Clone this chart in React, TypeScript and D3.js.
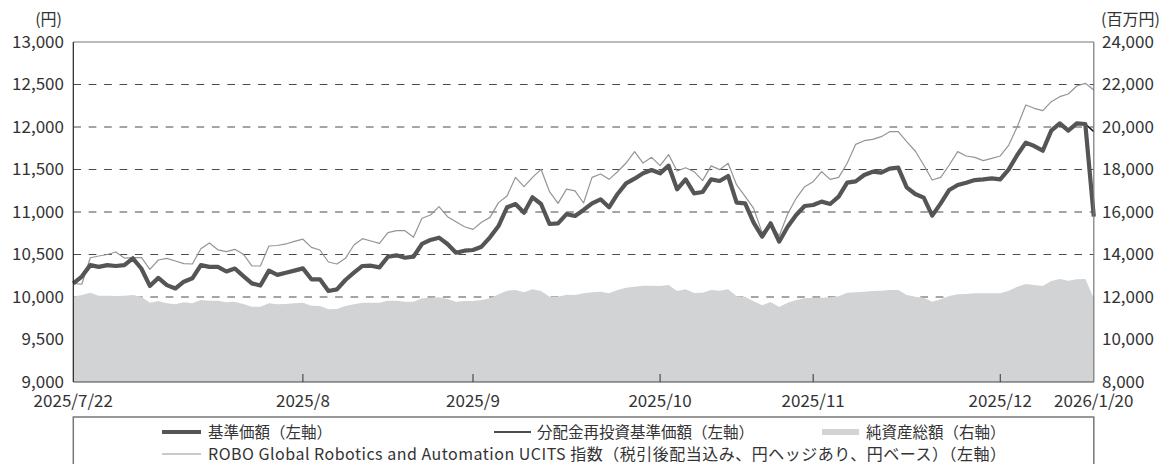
import React, { useEffect, useRef } from "react";
import * as d3 from "d3";

// 基準価額 (left axis, yen)
const navValues = [
  10160, 10240, 10375, 10355, 10375, 10365, 10375, 10455, 10335, 10130,
  10225, 10140, 10100, 10180, 10220, 10375, 10355, 10355, 10300, 10335,
  10245, 10160, 10135, 10310, 10260, 10285, 10310, 10337, 10208, 10208,
  10071, 10090, 10200, 10286, 10365, 10368, 10349, 10474, 10490, 10462,
  10474, 10624, 10671, 10698, 10624, 10521, 10545, 10553, 10592, 10702,
  10835, 11055, 11094, 10992, 11173, 11094, 10859, 10867, 10975, 10953,
  11024, 11102, 11149, 11055, 11212, 11337, 11392, 11455, 11494, 11455,
  11545, 11267, 11384, 11220, 11235, 11384, 11365, 11424, 11110, 11102,
  10875, 10710, 10867, 10651, 10827, 10965, 11071, 11082, 11122, 11094,
  11180, 11345, 11360, 11435, 11474, 11463, 11510, 11522, 11290, 11212,
  11169, 10957, 11102, 11259, 11318, 11345, 11376, 11384, 11396, 11384,
  11502, 11671, 11816, 11776, 11721, 11957, 12043, 11957, 12043, 12035,
  10945,
];

// 分配金再投資基準価額 (left axis, yen)
const reinvestValues = [
  10160, 10240, 10375, 10355, 10375, 10365, 10375, 10455, 10335, 10130,
  10225, 10140, 10100, 10180, 10220, 10375, 10355, 10355, 10300, 10335,
  10245, 10160, 10135, 10310, 10260, 10285, 10310, 10337, 10208, 10208,
  10071, 10090, 10200, 10286, 10365, 10368, 10349, 10474, 10490, 10462,
  10474, 10624, 10671, 10698, 10624, 10521, 10545, 10553, 10592, 10702,
  10835, 11055, 11094, 10992, 11173, 11094, 10859, 10867, 10975, 10953,
  11024, 11102, 11149, 11055, 11212, 11337, 11392, 11455, 11494, 11455,
  11545, 11267, 11384, 11220, 11235, 11384, 11365, 11424, 11110, 11102,
  10875, 10710, 10867, 10651, 10827, 10965, 11071, 11082, 11122, 11094,
  11180, 11345, 11360, 11435, 11474, 11463, 11510, 11522, 11290, 11212,
  11169, 10957, 11102, 11259, 11318, 11345, 11376, 11384, 11396, 11384,
  11502, 11671, 11816, 11776, 11721, 11957, 12043, 11957, 12043, 12035,
  11945,
];

// ROBO Global Robotics and Automation UCITS index (left axis)
const indexValues = [
  10160, 10150, 10462, 10482, 10500, 10530, 10458, 10463, 10465, 10326,
  10435, 10455, 10423, 10392, 10388, 10567, 10635, 10555, 10533, 10561,
  10504, 10365, 10365, 10600, 10606, 10624, 10655, 10680, 10584, 10553,
  10412, 10388, 10455, 10612, 10686, 10659, 10631, 10757, 10780, 10780,
  10702, 10926, 10965, 11063, 10945, 10886, 10827, 10796, 10880, 10937,
  11110, 11188, 11408, 11298, 11408, 11502, 11239, 11102, 11269, 11249,
  11106, 11408, 11447, 11384, 11474, 11576, 11710, 11576, 11643, 11545,
  11675, 11482, 11520, 11474, 11369, 11543, 11498, 11573, 11318, 11184,
  11043, 10757, 10860, 10718, 10976, 11161, 11298, 11357, 11474, 11384,
  11408, 11573, 11796, 11839, 11855, 11886, 11945, 11945, 11827, 11718,
  11553, 11376, 11408, 11553, 11710, 11659, 11643, 11604, 11631, 11659,
  11788, 12004, 12259, 12220, 12192, 12298, 12357, 12388, 12482, 12514,
  12435,
];

// 純資産総額 (right axis, million yen)
const assetValues = [
  12014, 12094, 12203, 12061, 12061, 12047, 12061, 12094, 12014, 11733,
  11812, 11702, 11655, 11749, 11702, 11859, 11827, 11827, 11749, 11780,
  11671, 11545, 11545, 11702, 11655, 11671, 11702, 11733, 11592, 11576,
  11420, 11435, 11576, 11655, 11733, 11733, 11733, 11827, 11827, 11780,
  11780, 11937, 11969, 11984, 11906, 11780, 11812, 11812, 11859, 11937,
  12125, 12298, 12329, 12220, 12361, 12282, 12016, 12016, 12110, 12094,
  12173, 12220, 12251, 12173, 12329, 12439, 12486, 12533, 12533, 12518,
  12565, 12282, 12361, 12190, 12204, 12329, 12298, 12361, 12032, 12016,
  11796, 11608, 11765, 11530, 11725, 11859, 11937, 11969, 11969, 11984,
  12030, 12204, 12220, 12251, 12282, 12298, 12329, 12329, 12094, 12016,
  11969, 11780, 11890, 12047, 12125, 12141, 12173, 12173, 12173, 12173,
  12298, 12486, 12612, 12565, 12518, 12753, 12847, 12769, 12831, 12847,
  11937,
];

const leftTicks = [9000, 9500, 10000, 10500, 11000, 11500, 12000, 12500, 13000];
const rightTicks = [8000, 10000, 12000, 14000, 16000, 18000, 20000, 22000, 24000];
const dateLabels = ["2025/7/22", "2025/8", "2025/9", "2025/10", "2025/11", "2025/12", "2026/1/20"];
const dateLabelIndex = [0, 27, 47, 69, 87, 109, 120];

const legendRow1 = ["基準価額（左軸）", "分配金再投資基準価額（左軸）", "純資産総額（右軸）"];
const legendRow2 = "ROBO Global Robotics and Automation UCITS 指数（税引後配当込み、円ヘッジあり、円ベース）（左軸）";

const FONT = "'Noto Sans CJK JP', 'Noto Sans', sans-serif";

export default function App() {
  const ref = useRef<SVGSVGElement>(null);

  useEffect(() => {
    document.body.style.margin = "0";
    const width = 1165;
    const height = 464;
    const left = 73.3;
    const right = 1093.8;
    const top = 42;
    const bottom = 382;

    const svg = d3.select(ref.current);
    svg.selectAll("*").remove();

    const x = d3.scaleLinear().domain([0, navValues.length - 1]).range([left, right]);
    const yL = d3.scaleLinear().domain([9000, 13000]).range([bottom, top]);
    const yR = d3.scaleLinear().domain([8000, 24000]).range([bottom, top]);

    const textColor = "#333";

    // dashed gridlines
    svg
      .append("g")
      .selectAll("line")
      .data(leftTicks.filter((t) => t > 9000 && t < 13000))
      .enter()
      .append("line")
      .attr("x1", left)
      .attr("x2", right)
      .attr("y1", (d) => yL(d))
      .attr("y2", (d) => yL(d))
      .attr("stroke", "#4a4a4a")
      .attr("stroke-width", 1)
      .attr("stroke-dasharray", "7.7,7.7");

    // net assets area
    const area = d3
      .area<number>()
      .x((d, i) => x(i))
      .y0(bottom)
      .y1((d) => yR(d));
    svg.append("path").datum(assetValues).attr("d", area).attr("fill", "#d2d3d5");

    const line = d3
      .line<number>()
      .x((d, i) => x(i))
      .y((d) => yL(d));

    svg
      .append("path")
      .datum(indexValues)
      .attr("d", line)
      .attr("fill", "none")
      .attr("stroke", "#959595")
      .attr("stroke-width", 1.2)
      .attr("stroke-linejoin", "round");

    svg
      .append("path")
      .datum(reinvestValues)
      .attr("d", line)
      .attr("fill", "none")
      .attr("stroke", "#111")
      .attr("stroke-width", 1.5)
      .attr("stroke-linejoin", "round");

    svg
      .append("path")
      .datum(navValues)
      .attr("d", line)
      .attr("fill", "none")
      .attr("stroke", "#555")
      .attr("stroke-width", 4.2)
      .attr("stroke-linejoin", "round");

    // frame
    svg.append("line").attr("x1", left).attr("x2", right).attr("y1", top).attr("y2", top).attr("stroke", "#777").attr("stroke-width", 1.2);
    svg.append("line").attr("x1", right).attr("x2", right).attr("y1", top).attr("y2", bottom).attr("stroke", "#777").attr("stroke-width", 1.2);
    svg.append("line").attr("x1", left).attr("x2", left).attr("y1", top).attr("y2", bottom).attr("stroke", "#222").attr("stroke-width", 1.2);
    svg.append("line").attr("x1", left).attr("x2", right).attr("y1", bottom).attr("y2", bottom).attr("stroke", "#444").attr("stroke-width", 1.2);

    // x ticks (inner, month ends)
    svg
      .append("g")
      .selectAll("line")
      .data(dateLabelIndex.slice(1, -1))
      .enter()
      .append("line")
      .attr("x1", (d) => x(d))
      .attr("x2", (d) => x(d))
      .attr("y1", bottom)
      .attr("y2", bottom - 8)
      .attr("stroke", "#333")
      .attr("stroke-width", 1);

    const axisText = svg.append("g").attr("font-family", FONT).attr("font-size", 17).attr("fill", textColor);

    axisText
      .selectAll("text.yl")
      .data(leftTicks)
      .enter()
      .append("text")
      .attr("x", 64)
      .attr("y", (d) => yL(d) + 5.5)
      .attr("text-anchor", "end")
      .text((d) => d3.format(",")(d));

    axisText
      .selectAll("text.yr")
      .data(rightTicks)
      .enter()
      .append("text")
      .attr("x", 1102)
      .attr("y", (d) => yR(d) + 5.5)
      .attr("text-anchor", "start")
      .text((d) => d3.format(",")(d));

    axisText
      .selectAll("text.xl")
      .data(dateLabels)
      .enter()
      .append("text")
      .attr("x", (d, i) => x(dateLabelIndex[i]))
      .attr("y", 407)
      .attr("text-anchor", "middle")
      .text((d) => d);

    axisText.append("text").attr("x", 62).attr("y", 25).attr("text-anchor", "end").attr("font-size", 16).text("(円)");
    axisText.append("text").attr("x", 1101).attr("y", 25).attr("text-anchor", "start").attr("font-size", 16).text("(百万円)");

    // legend
    const lg = svg.append("g").attr("font-family", FONT).attr("font-size", 15.5).attr("fill", textColor);
    lg.append("rect")
      .attr("x", left)
      .attr("y", 417)
      .attr("width", right - left)
      .attr("height", 60)
      .attr("fill", "#fff")
      .attr("stroke", "#777")
      .attr("stroke-width", 1.5);

    const row1 = 432;
    const row2 = 454;
    lg.append("line").attr("x1", 162).attr("x2", 201).attr("y1", row1).attr("y2", row1).attr("stroke", "#555").attr("stroke-width", 4.2);
    lg.append("text").attr("x", 208).attr("y", row1 + 5.5).text(legendRow1[0]);
    lg.append("line").attr("x1", 494).attr("x2", 531).attr("y1", row1).attr("y2", row1).attr("stroke", "#111").attr("stroke-width", 1.5);
    lg.append("text").attr("x", 537).attr("y", row1 + 5.5).text(legendRow1[1]);
    lg.append("rect").attr("x", 822).attr("y", row1 - 3).attr("width", 37).attr("height", 6).attr("fill", "#d2d3d5");
    lg.append("text").attr("x", 866).attr("y", row1 + 5.5).text(legendRow1[2]);
    lg.append("line").attr("x1", 162).attr("x2", 201).attr("y1", row2).attr("y2", row2).attr("stroke", "#959595").attr("stroke-width", 1.2);
    lg.append("text")
      .attr("x", 208)
      .attr("y", row2 + 5.5)
      .attr("font-size", 16)
      .attr("textLength", 798)
      .attr("lengthAdjust", "spacing")
      .text(legendRow2);

    svg.attr("width", width).attr("height", height);
  }, []);

  return <svg ref={ref} width={1165} height={464} style={{ display: "block" }} />;
}
